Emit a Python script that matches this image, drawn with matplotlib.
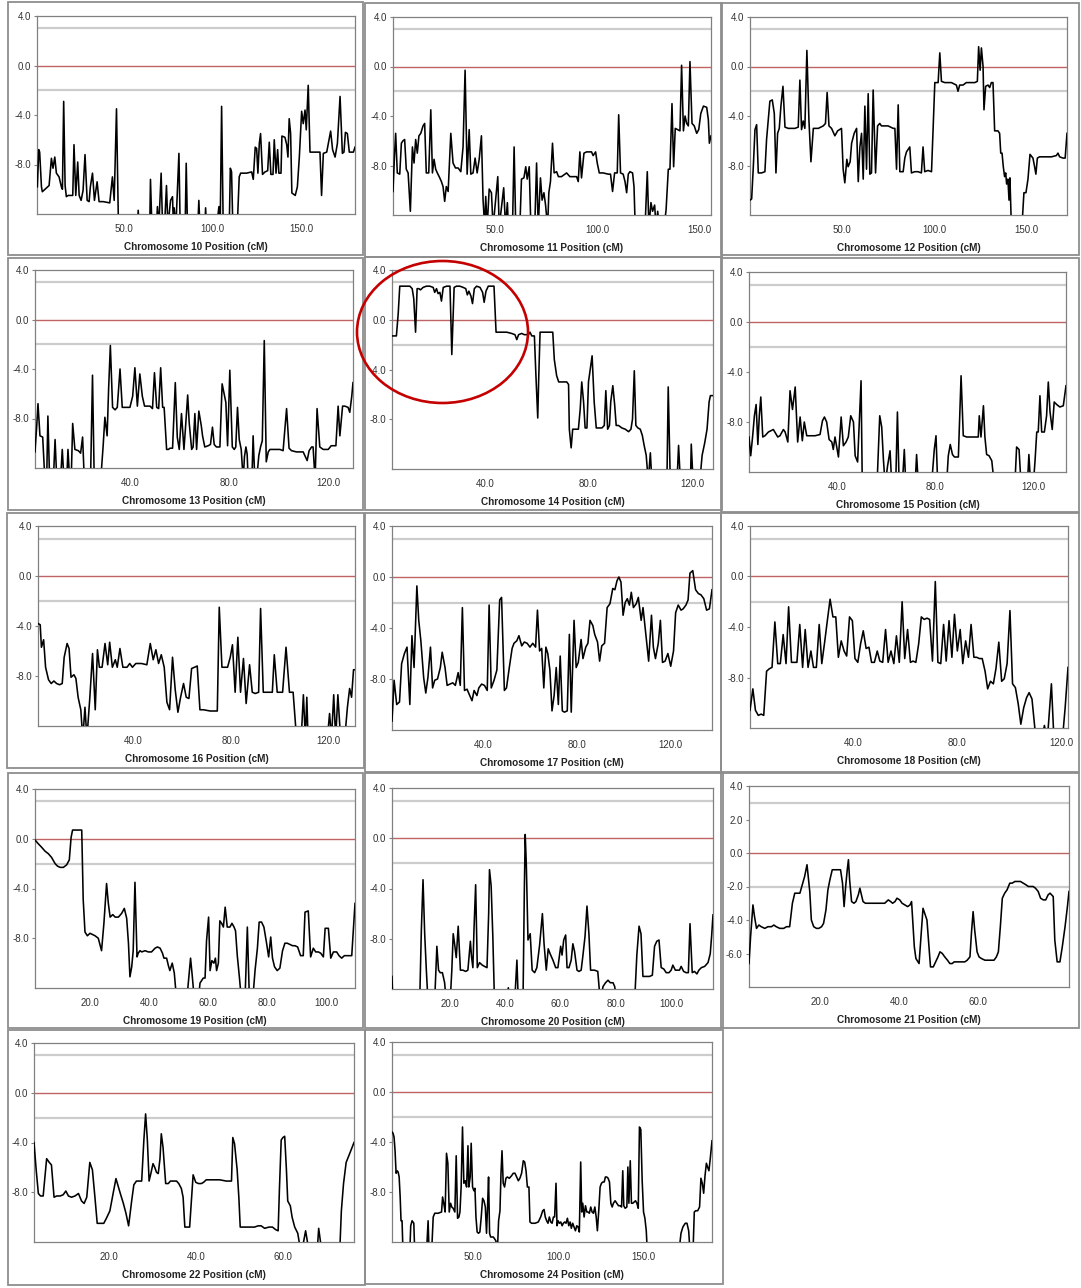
import matplotlib
matplotlib.use('Agg')
import matplotlib.pyplot as plt
from matplotlib.patches import Rectangle, Ellipse
from matplotlib.ticker import FormatStrFormatter

plt.rcParams['font.family'] = ['Liberation Sans', 'DejaVu Sans']
plt.rcParams['axes.unicode_minus'] = False

W, H = 1081, 1288

# (position cM, score) pairs
chr10 = [(1.4,-9.8),(2.2,-6.8),(2.7,-7.0),(3.7,-9.8),(4.2,-10.2),(6.5,-9.9),(8.0,-9.7),(9.3,-7.5),(10.2,-8.3),(11.2,-7.4),(12.1,-8.7),(13.6,-9.0),(14.9,-9.8),(15.5,-10.0),(16.2,-2.9),(17.0,-9.7),(17.7,-10.6),(18.7,-10.5),(20.5,-10.5),(21.3,-10.5),(22.0,-6.4),(23.0,-10.5),(24.1,-7.8),(24.9,-10.5),(26.0,-10.9),(27.1,-10.1),(28.2,-7.2),(29.4,-10.9),(30.5,-11.0),(31.2,-9.8),(32.4,-8.7),(33.5,-10.9),(35.0,-9.4),(36.1,-11.0),(38.4,-11.0),(42.1,-11.1),(43.6,-9.0),(44.6,-10.9),(45.9,-3.5),(47.0,-13),(57.7,-13),(58.1,-11.7),(58.6,-13),(64.6,-13),(65.0,-9.2),(65.8,-13),(68.4,-13),(68.9,-11.4),(69.7,-13),(71.0,-8.7),(71.8,-13),(72.9,-13),(74.0,-9.7),(74.8,-13),(76.3,-10.9),(77.4,-10.6),(77.9,-13),(78.3,-11.5),(79.3,-13),(81.0,-7.1),(81.7,-13),(84.5,-13),(85.1,-7.9),(85.8,-13),(91.6,-13),(92.2,-10.9),(92.8,-13),(95.6,-13),(96.0,-11.5),(96.5,-13),(102.2,-13),(103.5,-11.4),(104.2,-13),(105.0,-3.3),(105.9,-13),(109.3,-13),(109.9,-8.3),(110.6,-8.6),(111.3,-13),(113.8,-13),(114.9,-9.0),(115.7,-8.7),(119.0,-8.7),(121.9,-8.6),(122.8,-9.2),(123.9,-6.6),(124.7,-6.7),(125.4,-8.7),(126.2,-6.3),(126.9,-5.5),(128.0,-8.8),(129.4,-8.6),(130.9,-8.5),(131.8,-6.2),(132.7,-8.8),(133.9,-8.8),(134.6,-6.0),(135.6,-8.7),(136.5,-6.8),(137.2,-8.7),(138.4,-8.7),(138.9,-5.7),(140.6,-5.8),(141.6,-6.4),(142.3,-7.4),(143.0,-4.3),(143.8,-5.5),(144.5,-10.3),(146.4,-10.5),(147.6,-9.8),(148.7,-7.4),(150.0,-3.7),(150.9,-4.7),(151.9,-3.6),(152.6,-5.2),(153.7,-1.6),(154.7,-7.0),(158.4,-7.0),(160.3,-7.0),(161.2,-10.5),(162.2,-7.1),(164.1,-7.0),(165.0,-6.3),(166.3,-5.3),(167.4,-6.8),(168.8,-7.4),(170.1,-6.3),(171.6,-2.5),(172.9,-7.1),(173.8,-7.0),(174.6,-5.4),(175.7,-5.5),(176.8,-7.0),(179.1,-7.0),(180.0,-6.6)]

chr11 = [(0.0,-10.1),(0.7,-7.3),(1.3,-5.4),(2.1,-8.6),(3.3,-8.7),(4.1,-6.2),(4.9,-6.0),(5.7,-5.9),(6.5,-8.3),(7.4,-8.6),(8.5,-11.7),(9.5,-6.5),(10.3,-7.8),(11.1,-5.9),(11.9,-7.0),(12.7,-5.6),(13.6,-5.4),(14.7,-4.8),(15.5,-4.6),(16.3,-8.6),(17.5,-8.6),(18.5,-3.5),(19.3,-8.6),(20.1,-7.5),(20.9,-8.3),(21.7,-8.6),(22.9,-9.0),(23.7,-9.3),(24.5,-9.7),(25.3,-10.9),(26.1,-9.7),(27.0,-10.1),(28.3,-5.4),(29.4,-7.8),(30.6,-8.2),(31.9,-8.2),(33.2,-8.5),(34.3,-6.5),(35.3,-0.3),(36.3,-8.7),(37.3,-5.1),(38.1,-8.7),(39.2,-8.6),(40.2,-7.4),(41.2,-8.6),(42.2,-7.5),(43.3,-5.6),(44.1,-10.8),(44.9,-13),(45.4,-10.5),(46.1,-13),(47.1,-9.9),(48.2,-10.2),(49.0,-13),(51.3,-8.9),(52.0,-13),(54.2,-9.8),(55.1,-13),(56.0,-11.0),(56.5,-13),(58.5,-13),(59.3,-6.5),(60.1,-13),(62.1,-13),(62.9,-9.1),(64.1,-9.0),(65.0,-8.1),(65.7,-9.1),(66.7,-8.1),(67.5,-13),(69.4,-13),(70.3,-7.8),(71.1,-13),(72.2,-9.0),(73.0,-10.8),(73.9,-10.2),(74.7,-11.2),(75.7,-13),(76.3,-10.2),(77.1,-9.3),(78.1,-6.2),(78.9,-8.6),(80.1,-8.5),(81.0,-8.9),(82.5,-8.9),(85.0,-8.6),(86.6,-8.9),(88.2,-8.9),(89.9,-8.9),(90.7,-9.3),(91.5,-6.9),(92.3,-9.0),(93.5,-7.0),(94.8,-6.9),(97.2,-6.9),(98.0,-7.2),(99.2,-6.9),(100.0,-7.8),(101.0,-8.6),(102.9,-8.6),(105.4,-8.7),(106.5,-8.7),(107.5,-10.1),(108.5,-8.6),(109.8,-8.6),(110.5,-3.9),(111.4,-8.6),(112.7,-8.7),(113.6,-9.3),(114.4,-10.2),(115.2,-8.7),(116.0,-8.5),(117.3,-8.6),(118.0,-9.7),(118.6,-13),(123.4,-13),(124.5,-8.5),(125.3,-13),(126.3,-11.0),(127.1,-11.7),(128.1,-11.2),(128.8,-13),(129.6,-11.7),(130.4,-13),(132.7,-13),(133.7,-11.6),(134.8,-8.3),(135.6,-8.3),(136.6,-3.0),(137.4,-8.1),(138.2,-5.0),(139.4,-5.1),(140.5,-5.2),(141.3,0.1),(142.2,-5.2),(143.0,-4.0),(143.8,-4.6),(144.6,-4.8),(145.4,0.4),(146.4,-4.6),(147.5,-4.8),(148.7,-5.4),(149.7,-5.1),(150.7,-3.8),(152.0,-3.2),(153.6,-3.3),(154.4,-4.3),(154.9,-6.2),(155.7,-5.6)]

chr12 = [(0.0,-10.8),(0.9,-10.7),(1.8,-8.1),(2.7,-5.1),(3.6,-4.7),(4.5,-8.6),(6.3,-8.6),(8.1,-8.5),(9.0,-5.9),(9.9,-4.3),(10.8,-2.8),(12.1,-2.7),(13.2,-3.8),(14.1,-8.6),(15.0,-5.4),(15.9,-5.0),(16.8,-3.2),(17.9,-1.6),(19.0,-4.9),(20.8,-5.0),(24.4,-5.0),(26.2,-4.9),(27.1,-1.1),(28.0,-5.1),(28.9,-4.4),(29.8,-5.0),(30.9,1.3),(32.0,-4.3),(33.1,-7.7),(34.4,-5.0),(37.1,-5.0),(39.8,-4.8),(41.0,-4.6),(41.9,-2.1),(42.9,-4.8),(44.3,-5.0),(46.1,-5.6),(47.6,-5.2),(49.7,-5.0),(50.6,-8.3),(51.5,-9.4),(52.6,-7.5),(53.3,-8.1),(54.4,-7.7),(55.2,-6.2),(56.6,-5.4),(57.9,-5.0),(58.8,-9.3),(59.7,-6.5),(60.6,-5.4),(61.5,-9.1),(62.4,-3.2),(63.3,-8.3),(64.2,-2.2),(65.1,-8.7),(66.0,-8.6),(66.9,-1.9),(68.2,-8.6),(69.3,-4.8),(70.5,-4.6),(71.4,-4.8),(72.3,-4.8),(75.0,-4.8),(77.8,-5.0),(78.7,-5.0),(79.6,-8.3),(80.5,-3.1),(81.4,-8.5),(83.2,-8.5),(84.1,-7.4),(85.0,-6.9),(86.8,-6.5),(87.7,-8.6),(89.5,-8.5),(91.3,-8.5),(93.1,-8.6),(94.0,-6.5),(94.9,-8.5),(96.7,-8.4),(98.6,-8.5),(100.4,-1.3),(102.2,-1.3),(103.1,1.1),(104.0,-1.2),(105.8,-1.3),(109.4,-1.3),(112.1,-1.5),(113.0,-2.0),(113.9,-1.5),(115.7,-1.5),(117.5,-1.3),(120.3,-1.3),(122.1,-1.3),(123.5,-1.2),(124.2,1.6),(125.0,-0.3),(125.7,1.5),(126.6,0.0),(127.1,-3.5),(128.0,-1.6),(129.3,-1.5),(130.2,-1.7),(131.1,-1.3),(132.0,-1.3),(132.9,-5.2),(134.7,-5.2),(135.6,-5.4),(136.2,-7.0),(136.9,-7.0),(137.6,-8.1),(138.3,-8.9),(138.9,-8.6),(139.4,-9.5),(140.1,-9.1),(140.7,-10.8),(141.2,-9.0),(142.0,-13),(147.7,-13),(148.8,-10.2),(149.9,-10.2),(151.0,-9.1),(152.1,-7.1),(153.7,-7.4),(154.6,-8.1),(155.3,-8.7),(156.1,-7.4),(157.3,-7.3),(159.1,-7.3),(163.7,-7.3),(166.4,-7.2),(167.3,-7.0),(168.2,-7.3),(170.0,-7.4),(171.2,-7.4),(172.2,-5.4)]

chr13 = [(1.7,-10.7),(2.4,-8.6),(2.9,-6.8),(3.7,-9.4),(4.8,-9.5),(5.7,-13),(6.4,-13),(6.9,-7.8),(7.6,-13),(9.1,-13),(9.8,-9.7),(10.5,-13),(12.0,-13),(12.7,-10.5),(13.4,-13),(14.5,-13),(15.0,-10.5),(15.7,-13),(16.3,-13),(16.9,-8.4),(17.8,-10.5),(19.2,-10.6),(20.1,-10.8),(20.9,-9.5),(21.6,-13),(24.1,-13),(24.9,-4.5),(25.6,-13),(28.2,-13),(29.2,-10.2),(29.9,-7.9),(30.8,-9.4),(31.4,-5.6),(32.1,-2.1),(33.0,-7.1),(34.0,-7.3),(34.9,-7.1),(36.0,-4.0),(36.9,-7.1),(38.0,-7.1),(40.0,-7.1),(41.1,-6.2),(42.0,-3.9),(43.0,-7.0),(44.0,-4.4),(45.0,-6.2),(45.9,-7.0),(46.7,-7.0),(48.1,-7.0),(49.1,-7.2),(49.9,-4.3),(50.8,-7.1),(51.6,-7.2),(52.4,-3.9),(53.2,-7.1),(53.8,-7.1),(54.8,-10.5),(55.5,-10.5),(56.2,-10.4),(57.2,-10.4),(58.3,-5.1),(59.1,-9.5),(59.9,-10.5),(60.8,-7.6),(61.8,-10.5),(62.4,-8.8),(63.3,-6.1),(63.9,-8.3),(64.9,-10.5),(65.5,-10.3),(66.2,-7.6),(66.9,-10.5),(67.8,-7.4),(68.8,-8.6),(69.3,-9.4),(70.2,-10.3),(71.6,-10.2),(72.5,-10.1),(73.3,-8.7),(74.0,-10.1),(74.9,-10.3),(76.3,-10.3),(77.2,-5.2),(77.9,-5.9),(78.7,-6.7),(79.4,-10.2),(80.3,-4.1),(81.3,-10.3),(82.1,-10.5),(82.7,-10.3),(83.4,-7.1),(84.1,-9.7),(84.9,-10.5),(85.7,-13),(86.2,-11.1),(86.8,-10.3),(87.3,-10.9),(87.7,-13),(89.2,-13),(89.7,-9.4),(90.4,-13),(91.1,-13),(92.0,-11.0),(92.7,-10.3),(93.4,-9.8),(94.2,-1.7),(95.0,-11.5),(95.8,-10.7),(96.5,-10.5),(97.8,-10.5),(100.5,-10.5),(101.8,-10.6),(103.2,-7.2),(104.2,-10.4),(105.2,-10.6),(107.2,-10.7),(109.9,-10.7),(111.5,-11.4),(112.3,-10.6),(113.3,-10.3),(113.9,-10.3),(114.7,-13),(115.5,-7.2),(116.6,-10.3),(118.0,-10.5),(120.0,-10.5),(121.2,-10.2),(123.1,-10.2),(124.0,-7.0),(124.7,-9.4),(125.8,-7.0),(126.7,-7.0),(128.0,-7.1),(128.7,-7.5),(129.5,-6.2),(130.0,-5.1)]

chr14 = [(4.1,-1.3),(5.8,-1.3),(6.5,0.5),(7.1,2.7),(8.4,2.7),(11.0,2.7),(11.9,2.5),(12.5,1.7),(13.2,-1.0),(13.8,2.5),(14.5,2.5),(15.1,2.4),(16.1,2.6),(17.4,2.7),(18.7,2.7),(20.0,2.6),(20.6,2.2),(21.3,2.5),(21.9,2.1),(22.6,2.2),(23.2,1.5),(23.9,2.6),(25.2,2.7),(26.5,2.7),(27.2,-2.8),(28.1,2.6),(29.0,2.7),(30.3,2.7),(31.6,2.6),(32.6,2.5),(33.2,2.0),(33.8,2.3),(34.6,1.9),(35.2,1.3),(35.9,2.5),(36.8,2.7),(38.1,2.6),(39.1,2.2),(39.7,1.4),(40.4,2.3),(41.3,2.7),(42.6,2.7),(43.5,2.7),(44.3,-1.0),(45.8,-1.0),(48.4,-1.0),(50.3,-1.1),(51.6,-1.2),(52.3,-1.6),(53.0,-1.2),(54.2,-1.1),(55.2,-1.2),(56.1,-1.2),(56.8,-1.2),(57.4,-1.0),(58.1,-1.3),(58.7,-1.3),(59.1,-1.3),(59.7,-4.5),(60.4,-7.9),(60.8,-4.5),(61.3,-1.0),(62.6,-1.0),(63.9,-1.0),(65.2,-1.0),(66.2,-1.0),(66.8,-3.2),(67.7,-4.5),(68.5,-5.0),(70.3,-5.0),(71.6,-5.0),(72.3,-5.2),(72.6,-8.8),(73.3,-10.3),(73.9,-8.8),(74.8,-8.8),(76.1,-8.8),(76.8,-7.2),(77.4,-5.0),(78.1,-6.6),(78.7,-8.7),(79.4,-8.7),(80.0,-5.0),(80.6,-4.1),(81.4,-2.9),(82.2,-6.6),(83.0,-8.7),(83.9,-8.7),(85.2,-8.7),(86.1,-8.5),(86.7,-5.7),(87.4,-8.8),(88.1,-8.5),(88.6,-6.6),(89.4,-5.3),(90.1,-6.8),(90.7,-8.5),(91.6,-8.5),(92.9,-8.7),(94.2,-8.8),(95.5,-9.0),(96.4,-8.8),(97.0,-8.0),(97.7,-4.1),(98.3,-8.5),(99.1,-8.7),(100.0,-8.8),(100.8,-9.3),(101.5,-10.1),(102.3,-10.9),(103.1,-13),(103.9,-10.7),(104.5,-13),(110.3,-13),(110.8,-5.4),(111.6,-13),(114.2,-13),(114.8,-10.1),(115.5,-13),(119.4,-13),(119.7,-10.0),(120.4,-13),(123.0,-13),(123.9,-10.9),(124.9,-9.9),(125.8,-8.8),(126.6,-6.6),(127.1,-6.1),(128.1,-6.1)]

chr15 = [(4.3,-9.2),(5.0,-10.7),(5.8,-9.1),(6.5,-7.5),(7.2,-6.6),(7.9,-9.8),(8.5,-7.5),(9.1,-6.0),(9.9,-9.2),(10.8,-9.1),(12.2,-8.8),(14.2,-8.6),(16.0,-9.2),(16.9,-9.1),(18.3,-8.6),(19.0,-8.8),(20.1,-9.6),(21.0,-5.5),(22.0,-7.0),(23.1,-5.2),(24.1,-9.6),(25.1,-7.6),(26.0,-9.5),(26.8,-8.0),(27.8,-9.1),(29.2,-9.1),(31.2,-9.1),(33.2,-9.0),(34.2,-7.9),(35.0,-7.6),(35.9,-8.0),(36.9,-9.4),(38.0,-9.6),(38.6,-10.2),(39.3,-9.2),(40.0,-10.0),(40.7,-10.8),(41.8,-7.6),(42.7,-9.9),(43.8,-9.6),(44.7,-9.2),(45.7,-7.5),(46.8,-8.0),(47.5,-10.7),(48.5,-11.2),(49.9,-4.7),(50.4,-13),(56.4,-13),(57.5,-7.5),(58.3,-8.4),(59.0,-11.0),(59.7,-13),(60.7,-11.5),(61.7,-10.3),(62.4,-13),(64.0,-13),(64.7,-7.2),(65.4,-13),(66.7,-13),(67.5,-10.2),(68.1,-13),(71.9,-13),(72.5,-10.6),(73.2,-13),(78.6,-13),(79.7,-10.2),(80.4,-9.1),(81.1,-13),(84.7,-13),(85.4,-10.7),(86.2,-9.8),(87.1,-10.6),(87.9,-10.8),(89.5,-10.8),(90.6,-4.3),(91.5,-9.1),(92.9,-9.2),(94.9,-9.2),(97.6,-9.2),(98.0,-7.5),(98.7,-9.2),(99.7,-6.7),(100.3,-9.2),(101.0,-10.6),(102.0,-10.7),(103.1,-11.1),(104.1,-13),(112.5,-13),(113.2,-10.0),(114.2,-10.2),(115.0,-13),(117.6,-13),(118.2,-10.6),(118.9,-13),(120.0,-13),(120.7,-11.1),(121.4,-8.8),(122.0,-8.8),(122.7,-5.9),(123.4,-8.8),(124.5,-8.8),(125.4,-7.5),(126.1,-4.8),(126.8,-7.2),(127.7,-8.6),(128.5,-6.4),(129.5,-6.6),(130.8,-6.8),(132.2,-6.7),(133.3,-5.1)]

chr16 = [(1.1,-3.8),(2.0,-3.9),(2.5,-5.7),(3.4,-5.1),(4.2,-7.3),(5.4,-8.3),(6.5,-8.6),(7.6,-8.4),(8.7,-8.6),(9.9,-8.7),(11.0,-8.6),(11.8,-6.5),(13.0,-5.4),(13.8,-5.8),(14.6,-8.1),(15.8,-7.9),(16.6,-8.2),(17.5,-9.7),(18.6,-10.7),(19.4,-13),(20.3,-10.5),(21.1,-13),(22.3,-9.7),(23.4,-6.2),(24.5,-10.7),(25.4,-5.9),(26.2,-7.3),(27.3,-7.3),(28.5,-5.4),(29.6,-7.1),(30.4,-5.3),(31.5,-7.3),(32.7,-6.7),(33.5,-7.3),(34.6,-5.8),(35.8,-7.3),(37.5,-7.3),(38.6,-7.0),(39.7,-7.3),(41.1,-7.0),(43.4,-7.0),(45.6,-7.1),(47.0,-5.4),(48.2,-6.7),(49.3,-5.9),(50.4,-7.0),(51.5,-6.3),(52.7,-7.3),(53.8,-10.1),(54.9,-10.7),(56.1,-6.5),(57.2,-9.1),(58.3,-10.9),(59.4,-9.7),(60.6,-8.6),(61.7,-9.7),(62.8,-9.8),(63.9,-7.4),(65.1,-7.3),(66.2,-7.2),(67.3,-10.7),(68.7,-10.7),(71.5,-10.8),(74.4,-10.8),(75.2,-2.5),(76.3,-7.3),(78.6,-7.3),(79.7,-6.5),(80.6,-5.5),(81.7,-9.3),(82.8,-4.9),(83.9,-9.3),(85.1,-6.6),(86.2,-10.2),(87.6,-7.1),(88.7,-9.3),(89.9,-9.4),(91.3,-9.3),(92.1,-2.6),(93.2,-9.3),(95.5,-9.3),(96.9,-9.3),(97.7,-6.3),(98.9,-9.3),(101.1,-9.3),(102.5,-5.7),(103.9,-9.3),(105.4,-9.3),(106.8,-13),(108.7,-13),(109.6,-9.5),(110.4,-13),(111.0,-9.7),(111.5,-13),(119.4,-13),(120.3,-11.0),(121.1,-13),(122.0,-9.5),(122.8,-13),(123.7,-9.5),(124.8,-13),(126.5,-13),(127.6,-10.5),(128.5,-9.0),(129.3,-9.7),(130.1,-7.5),(130.7,-7.5)]

chr17 = [(1.2,-11.3),(2.1,-8.1),(3.2,-10.0),(4.4,-9.8),(5.3,-6.8),(6.5,-6.0),(7.6,-5.5),(8.8,-10.0),(9.7,-4.6),(10.6,-7.1),(11.8,-0.7),(12.6,-3.4),(13.5,-5.0),(14.7,-7.9),(15.6,-9.1),(16.5,-7.9),(17.6,-5.5),(18.5,-8.7),(19.4,-8.1),(20.6,-8.0),(21.8,-7.1),(22.6,-5.9),(23.8,-7.1),(24.7,-8.5),(25.9,-8.4),(27.1,-8.3),(28.2,-8.5),(29.4,-7.5),(30.3,-8.5),(31.2,-2.4),(32.1,-8.9),(33.2,-8.8),(34.1,-9.2),(35.3,-9.7),(36.2,-8.9),(37.4,-9.3),(38.2,-8.7),(39.4,-8.4),(40.6,-8.5),(41.8,-8.9),(42.6,-2.2),(43.5,-8.7),(44.7,-8.1),(45.9,-7.3),(47.1,-1.8),(47.9,-1.6),(49.1,-8.9),(50.0,-8.7),(51.2,-7.1),(52.4,-5.6),(53.2,-5.2),(54.4,-5.0),(55.3,-4.6),(56.5,-5.4),(57.6,-5.1),(58.8,-5.2),(60.0,-5.5),(61.2,-5.2),(62.4,-5.5),(63.2,-2.6),(64.1,-5.8),(65.0,-5.6),(65.9,-8.7),(66.8,-5.5),(67.6,-6.0),(68.5,-7.3),(69.4,-10.5),(70.3,-9.3),(71.2,-7.1),(72.1,-10.0),(72.9,-6.2),(73.8,-10.5),(74.7,-10.6),(75.9,-10.5),(76.8,-4.5),(77.6,-10.6),(78.8,-3.4),(79.7,-7.1),(80.6,-6.7),(81.8,-4.9),(82.6,-6.4),(83.8,-5.5),(84.7,-5.2),(85.6,-3.4),(86.8,-3.8),(87.6,-4.5),(88.8,-5.1),(89.7,-6.6),(90.6,-5.4),(91.8,-5.2),(92.9,-2.4),(94.1,-2.1),(95.3,-0.9),(96.2,-1.0),(97.1,-0.3),(97.9,0.0),(98.8,-0.4),(99.7,-3.0),(100.6,-2.0),(101.5,-1.7),(102.4,-2.2),(103.2,-1.2),(104.1,-2.4),(105.3,-2.1),(106.2,-1.6),(107.4,-3.4),(108.2,-2.4),(109.4,-4.5),(110.6,-6.6),(111.8,-3.0),(112.6,-5.5),(113.5,-6.4),(114.7,-5.2),(115.6,-3.4),(116.5,-6.7),(117.6,-6.6),(118.8,-6.0),(120.0,-7.0),(121.2,-5.8),(122.1,-2.8),(123.2,-2.2),(124.4,-2.6),(125.3,-2.5),(126.5,-2.2),(127.4,-1.8),(128.2,0.3),(129.4,0.5),(130.6,-1.0),(131.8,-1.3),(132.9,-1.4),(134.1,-1.7),(135.3,-2.6),(136.5,-2.5),(137.6,-1.0)]

chr18 = [(0.0,-10.6),(1.1,-8.9),(2.1,-10.6),(3.2,-11.0),(4.3,-10.9),(5.3,-11.0),(6.4,-7.5),(7.5,-7.3),(8.5,-7.2),(9.6,-3.6),(10.7,-6.9),(11.7,-6.9),(12.8,-4.6),(13.9,-6.9),(14.9,-2.4),(16.0,-6.8),(17.1,-6.8),(18.1,-6.8),(19.2,-3.8),(20.3,-7.2),(21.3,-4.2),(22.4,-7.2),(23.5,-5.9),(24.5,-7.2),(25.6,-7.2),(26.7,-3.8),(27.7,-6.9),(28.8,-5.2),(29.9,-3.4),(30.9,-1.8),(32.0,-3.2),(33.1,-3.2),(34.1,-6.4),(35.2,-5.1),(36.3,-5.9),(37.3,-6.3),(38.4,-3.2),(39.5,-3.5),(40.5,-6.5),(41.6,-6.8),(42.7,-5.3),(43.7,-4.3),(44.8,-5.7),(45.9,-5.6),(46.9,-6.8),(48.0,-6.8),(49.1,-5.9),(50.1,-6.7),(51.2,-6.8),(52.3,-4.2),(53.3,-6.8),(54.4,-5.9),(55.5,-6.9),(56.5,-4.7),(57.6,-6.8),(58.7,-2.0),(59.7,-6.5),(60.8,-4.2),(61.9,-6.8),(62.9,-6.7),(64.0,-6.8),(65.1,-5.3),(66.1,-3.2),(67.2,-3.4),(68.3,-3.3),(69.3,-3.4),(70.4,-6.7),(71.5,-0.4),(72.5,-6.8),(73.6,-6.9),(74.7,-3.8),(75.7,-6.7),(76.8,-3.5),(77.9,-6.4),(78.9,-3.0),(80.0,-5.9),(81.1,-4.2),(82.1,-6.9),(83.2,-5.1),(84.3,-6.4),(85.3,-3.8),(86.4,-6.4),(87.5,-6.4),(88.5,-6.5),(89.6,-6.5),(90.7,-7.5),(91.7,-8.9),(92.8,-8.3),(93.9,-8.5),(94.9,-7.3),(96.0,-5.2),(97.1,-8.3),(98.1,-8.1),(99.2,-6.9),(100.3,-2.7),(101.3,-8.5),(102.4,-8.8),(103.5,-10.1),(104.5,-11.7),(105.6,-10.4),(106.7,-9.6),(107.7,-9.2),(108.8,-9.7),(109.9,-12.0),(112.5,-13),(113.6,-11.8),(114.7,-13),(116.3,-8.5),(117.3,-13),(120.5,-13),(121.6,-10.4),(122.7,-7.2)]

chr19 = [(1.4,-0.1),(2.5,-0.4),(3.7,-0.7),(4.8,-1.0),(5.9,-1.2),(7.0,-1.5),(8.2,-2.0),(9.0,-2.2),(9.9,-2.3),(11.0,-2.3),(12.1,-2.1),(13.0,-1.7),(13.6,0.1),(14.1,0.7),(15.5,0.7),(16.6,0.7),(17.2,0.7),(17.7,-4.9),(18.3,-7.5),(19.1,-7.8),(20.0,-7.6),(21.7,-7.8),(22.8,-8.0),(23.9,-9.0),(24.7,-6.8),(25.6,-3.6),(26.2,-5.2),(26.8,-6.3),(27.7,-6.1),(28.5,-6.3),(29.6,-6.3),(30.7,-6.0),(31.6,-5.6),(32.4,-6.4),(33.0,-8.4),(33.5,-11.1),(34.1,-10.3),(34.6,-9.0),(35.2,-3.5),(35.9,-9.5),(36.3,-9.2),(36.9,-9.0),(37.5,-9.1),(38.6,-9.0),(39.7,-9.1),(40.8,-9.1),(42.0,-8.8),(42.8,-8.7),(43.7,-8.8),(44.5,-9.2),(45.0,-9.6),(45.9,-9.6),(46.5,-10.2),(47.0,-10.6),(47.8,-10.0),(48.5,-10.8),(49.3,-13),(52.7,-13),(54.0,-9.6),(54.6,-11.1),(55.3,-13),(56.6,-13),(57.2,-11.6),(58.3,-11.2),(58.9,-11.2),(59.4,-8.2),(60.1,-6.3),(60.6,-10.6),(61.2,-9.8),(61.9,-10.0),(62.4,-9.6),(62.8,-10.6),(63.4,-10.0),(63.9,-6.6),(64.5,-6.8),(65.1,-7.1),(65.7,-5.5),(66.4,-7.1),(67.3,-7.1),(68.0,-6.8),(68.7,-7.1),(69.2,-7.4),(69.8,-9.4),(70.5,-11.1),(71.2,-13),(72.4,-13),(73.2,-7.1),(73.9,-13),(75.0,-13),(75.8,-10.6),(76.6,-8.8),(77.2,-6.7),(78.0,-6.7),(78.8,-7.1),(79.7,-8.4),(80.4,-9.5),(81.1,-7.9),(81.7,-9.6),(82.4,-10.3),(83.3,-10.6),(84.2,-10.4),(85.1,-9.0),(85.9,-8.4),(86.7,-8.4),(87.6,-8.5),(88.5,-8.6),(89.3,-8.6),(90.2,-8.7),(91.2,-9.4),(92.1,-9.4),(92.7,-5.9),(93.8,-5.8),(94.6,-9.5),(95.5,-8.8),(96.3,-9.1),(97.2,-9.1),(98.0,-9.2),(98.9,-9.5),(99.5,-7.2),(100.6,-7.2),(101.4,-9.6),(102.3,-9.1),(103.4,-9.1),(104.2,-9.4),(105.1,-9.6),(106.0,-9.4),(106.8,-9.4),(108.5,-9.4),(109.6,-5.2)]

chr20 = [(-0.8,-11.0),(-0.5,-13),(9.2,-13),(9.8,-7.3),(10.4,-3.3),(11.0,-7.6),(11.6,-10.5),(12.2,-13),(14.6,-13),(15.4,-8.6),(16.0,-10.5),(16.6,-10.7),(17.4,-10.7),(18.2,-11.5),(18.8,-13),(20.2,-13),(20.8,-10.5),(21.3,-7.6),(21.8,-8.4),(22.4,-9.5),(23.1,-7.0),(23.9,-10.5),(24.8,-10.5),(25.8,-10.6),(26.6,-10.5),(27.5,-8.2),(27.9,-9.4),(28.4,-10.3),(28.8,-7.3),(29.4,-3.7),(30.0,-10.3),(30.8,-9.9),(31.8,-10.1),(32.6,-10.2),(33.5,-10.3),(34.1,-6.0),(34.4,-2.5),(35.0,-3.8),(35.6,-7.8),(36.2,-13),(40.5,-13),(41.2,-11.9),(41.9,-13),(43.5,-13),(44.3,-9.7),(44.8,-13),(46.5,-13),(47.0,-3.8),(47.3,0.3),(47.7,-2.1),(48.3,-8.1),(49.1,-7.6),(49.8,-10.5),(50.7,-10.7),(51.5,-10.3),(52.5,-8.5),(53.5,-6.0),(54.1,-8.4),(54.9,-10.5),(55.6,-8.8),(56.3,-9.2),(57.3,-9.7),(58.3,-10.3),(59.1,-10.3),(60.1,-8.6),(60.6,-9.3),(61.2,-8.1),(61.9,-7.7),(62.4,-10.3),(63.1,-10.3),(63.9,-9.7),(64.5,-8.4),(65.1,-9.0),(66.0,-10.5),(66.7,-10.6),(67.5,-10.5),(68.1,-9.4),(68.9,-7.8),(69.6,-5.4),(70.3,-7.6),(70.9,-10.5),(71.7,-10.5),(72.3,-10.5),(73.5,-10.6),(74.4,-13),(75.4,-11.8),(76.3,-11.5),(77.2,-11.3),(78.0,-11.5),(79.0,-11.5),(79.6,-11.8),(80.4,-13),(86.8,-13),(87.6,-9.3),(88.4,-7.0),(89.1,-7.6),(89.8,-11.0),(91.0,-11.0),(92.2,-11.0),(93.2,-10.9),(94.0,-8.6),(94.8,-8.2),(95.6,-8.1),(96.4,-10.3),(97.3,-10.4),(98.2,-10.7),(99.2,-10.7),(100.0,-10.5),(100.6,-10.1),(101.5,-10.5),(102.2,-10.5),(103.0,-10.5),(103.6,-10.2),(104.5,-10.6),(105.4,-10.7),(106.2,-10.7),(106.8,-6.8),(107.6,-10.7),(108.4,-10.6),(109.3,-10.8),(110.0,-10.5),(110.9,-10.3),(112.1,-10.2),(113.3,-9.9),(114.1,-9.2),(114.6,-7.8),(115.1,-6.1)]

chr21 = [(1.9,-6.6),(2.3,-5.0),(2.9,-3.1),(3.3,-3.8),(3.8,-4.5),(4.4,-4.3),(5.0,-4.4),(5.9,-4.5),(6.7,-4.4),(7.6,-4.4),(8.2,-4.3),(8.8,-4.4),(9.7,-4.5),(10.7,-4.5),(11.4,-4.4),(12.2,-4.4),(12.9,-3.0),(13.5,-2.4),(14.2,-2.4),(14.8,-2.4),(15.4,-1.9),(16.0,-1.4),(16.6,-0.7),(17.3,-2.3),(17.7,-4.0),(18.3,-4.4),(19.0,-4.5),(19.6,-4.5),(20.3,-4.4),(20.8,-4.2),(21.4,-3.4),(21.9,-2.2),(22.4,-1.6),(23.0,-1.0),(23.6,-1.0),(24.5,-1.0),(25.1,-1.0),(25.6,-1.8),(26.0,-3.2),(26.4,-2.0),(26.8,-1.0),(27.1,-0.4),(27.4,-1.6),(27.9,-2.9),(28.5,-3.0),(29.0,-2.9),(29.6,-2.5),(30.0,-2.1),(30.4,-2.5),(30.8,-2.9),(31.4,-3.0),(32.1,-3.0),(32.7,-3.0),(33.2,-3.0),(33.8,-3.0),(34.4,-3.0),(35.0,-3.0),(35.7,-3.0),(36.3,-3.0),(37.2,-2.8),(37.8,-2.9),(38.3,-3.0),(38.9,-2.9),(39.4,-2.7),(40.1,-2.8),(40.7,-3.0),(41.4,-3.1),(42.1,-3.2),(42.7,-3.1),(43.1,-2.9),(43.8,-5.6),(44.2,-6.3),(45.0,-6.6),(46.0,-3.3),(47.0,-4.0),(47.9,-6.8),(48.6,-6.8),(49.2,-6.5),(49.8,-6.2),(50.3,-5.9),(50.9,-6.0),(51.5,-6.2),(52.2,-6.4),(52.8,-6.6),(53.4,-6.6),(53.9,-6.5),(54.5,-6.5),(55.2,-6.5),(55.9,-6.5),(56.6,-6.5),(57.2,-6.4),(57.9,-6.2),(58.3,-4.7),(58.7,-3.5),(59.1,-4.6),(59.7,-5.9),(60.2,-6.2),(60.8,-6.3),(61.7,-6.4),(62.5,-6.4),(63.4,-6.4),(64.0,-6.4),(64.6,-6.2),(65.1,-5.9),(65.6,-4.4),(66.1,-2.7),(66.7,-2.4),(67.3,-2.2),(68.0,-1.8),(68.6,-1.8),(69.3,-1.7),(70.0,-1.7),(70.7,-1.7),(71.4,-1.8),(72.1,-1.9),(72.7,-2.0),(73.3,-2.0),(73.9,-2.0),(74.5,-2.1),(75.2,-2.3),(75.8,-2.7),(76.5,-2.8),(77.1,-2.8),(77.7,-2.5),(78.2,-2.4),(78.6,-2.5),(79.0,-2.6),(79.4,-5.2),(80.0,-6.5),(80.7,-6.5),(81.3,-5.6),(82.0,-4.4),(82.6,-3.2),(83.0,-2.3)]

chr22 = [(2.9,-4.0),(3.4,-6.2),(3.9,-8.1),(4.4,-8.3),(5.0,-8.3),(5.8,-5.3),(6.4,-5.6),(6.9,-5.8),(7.5,-8.4),(8.1,-8.3),(8.9,-8.3),(9.6,-8.2),(10.2,-7.9),(10.8,-8.3),(11.5,-8.4),(12.3,-8.3),(13.1,-8.1),(13.8,-8.7),(14.4,-8.9),(15.0,-8.4),(15.7,-5.6),(16.3,-6.2),(16.9,-8.5),(17.4,-10.5),(18.0,-10.5),(18.9,-10.5),(19.5,-10.1),(20.3,-9.5),(21.1,-8.0),(21.7,-6.9),(22.2,-7.5),(22.7,-8.1),(23.4,-8.9),(24.0,-9.7),(24.6,-10.7),(25.3,-8.7),(25.8,-7.4),(26.4,-7.1),(27.0,-7.1),(27.6,-7.1),(28.1,-3.8),(28.5,-1.7),(28.9,-3.8),(29.3,-7.1),(29.7,-6.5),(30.2,-5.7),(30.6,-6.0),(31.0,-6.4),(31.4,-6.5),(31.8,-5.3),(32.1,-3.3),(32.5,-4.4),(33.1,-7.3),(33.7,-7.3),(34.2,-7.1),(34.8,-7.1),(35.6,-7.1),(36.1,-7.3),(36.7,-7.7),(37.1,-8.4),(37.5,-10.8),(38.0,-10.8),(38.6,-10.8),(39.0,-8.7),(39.4,-6.6),(40.0,-7.2),(40.6,-7.3),(41.3,-7.3),(41.8,-7.2),(42.4,-7.0),(43.2,-7.0),(44.4,-7.0),(45.5,-7.0),(47.0,-7.1),(47.8,-7.1),(48.2,-7.1),(48.5,-3.6),(48.9,-4.1),(49.5,-6.2),(49.9,-8.5),(50.2,-10.8),(51.2,-10.8),(52.4,-10.8),(53.5,-10.8),(54.3,-10.7),(55.0,-10.7),(55.8,-10.9),(56.8,-10.8),(57.6,-10.8),(58.3,-11.0),(58.9,-11.1),(59.2,-7.7),(59.6,-3.8),(60.0,-3.6),(60.4,-3.5),(60.8,-6.2),(61.1,-8.7),(61.7,-9.1),(62.1,-10.0),(62.7,-10.8),(63.4,-11.3),(64.2,-13),(65.2,-11.1),(66.1,-13),(67.8,-13),(68.2,-10.9),(69.0,-13),(73.0,-13),(73.4,-9.5),(73.9,-7.3),(74.5,-5.6),(75.3,-4.9),(76.3,-4.0)]

chr24 = [(2.5,-3.2),(3.1,-3.3),(3.7,-3.6),(4.3,-4.7),(4.9,-6.5),(5.5,-6.3),(6.1,-6.4),(6.7,-6.8),(7.3,-8.4),(7.8,-10.3),(8.4,-10.3),(9.0,-13),(12.9,-13),(13.5,-10.7),(14.3,-10.3),(15.3,-10.5),(15.9,-13),(22.7,-13),(23.7,-10.3),(24.3,-13),(25.7,-13),(26.7,-10.0),(27.6,-9.7),(29.6,-9.7),(31.6,-9.6),(32.2,-8.4),(32.9,-8.9),(33.7,-9.6),(34.5,-4.9),(35.3,-5.7),(36.1,-9.6),(36.9,-8.9),(37.6,-9.2),(38.4,-9.3),(39.4,-9.6),(40.2,-5.1),(41.0,-10.1),(41.8,-10.0),(42.4,-9.6),(43.1,-7.6),(43.9,-2.8),(44.7,-7.3),(45.5,-7.1),(46.3,-7.6),(47.1,-4.3),(47.6,-7.6),(48.4,-6.8),(49.0,-4.1),(49.8,-7.6),(50.6,-7.9),(51.2,-7.7),(51.8,-10.0),(52.5,-11.2),(53.3,-11.3),(54.1,-11.2),(54.9,-10.0),(55.7,-8.5),(56.5,-8.7),(57.3,-9.2),(58.0,-11.3),(58.6,-9.2),(59.2,-6.8),(59.8,-11.3),(60.4,-11.6),(62.0,-11.6),(63.5,-11.9),(64.3,-13),(65.1,-10.3),(65.9,-9.5),(66.5,-6.5),(67.1,-4.7),(67.8,-7.3),(68.6,-7.6),(69.4,-6.9),(70.2,-6.8),(71.4,-6.9),(72.7,-6.7),(73.7,-6.5),(74.7,-6.5),(75.7,-6.8),(76.7,-7.1),(77.6,-6.9),(78.6,-6.5),(79.6,-5.5),(80.4,-5.6),(81.2,-6.3),(82.0,-7.6),(82.9,-7.6),(83.5,-10.4),(84.5,-10.5),(86.5,-10.5),(88.4,-10.4),(89.8,-10.0),(91.0,-9.5),(91.8,-9.4),(92.5,-10.0),(93.3,-10.3),(94.1,-10.5),(94.9,-10.0),(95.7,-10.4),(96.5,-10.5),(97.3,-10.0),(98.0,-10.0),(98.8,-7.3),(99.4,-10.7),(100.0,-10.3),(100.8,-10.5),(101.6,-10.4),(102.4,-10.7),(103.1,-10.5),(103.9,-10.4),(104.7,-10.5),(105.5,-10.1),(106.3,-10.7),(107.1,-10.4),(107.8,-10.9),(108.6,-10.5),(109.4,-10.8),(110.2,-11.1),(111.0,-10.7),(111.8,-10.8),(112.5,-11.2),(113.3,-5.6),(113.9,-9.6),(114.5,-8.9),(115.3,-10.0),(116.1,-9.1),(116.9,-9.6),(117.6,-9.6),(118.4,-9.7),(119.2,-9.2),(120.0,-9.6),(120.8,-9.7),(121.6,-9.2),(122.4,-10.0),(123.1,-11.1),(123.9,-9.5),(124.7,-7.6),(125.5,-7.3),(126.3,-7.2),(127.1,-7.2),(127.8,-6.8),(128.6,-6.8),(129.4,-6.9),(130.2,-7.2),(131.0,-8.9),(131.8,-9.2),(132.5,-8.9),(133.5,-8.7),(134.5,-8.9),(135.5,-9.1),(136.5,-9.1),(137.3,-9.2),(138.0,-6.3),(138.6,-9.1),(139.4,-9.3),(140.4,-9.2),(141.0,-6.0),(141.6,-8.9),(142.4,-5.5),(143.1,-8.9),(143.9,-8.9),(144.7,-8.8),(145.5,-8.7),(146.3,-8.9),(147.1,-9.3),(147.8,-2.8),(148.6,-3.0),(149.4,-7.1),(150.2,-9.6),(151.0,-10.1),(151.8,-11.1),(152.5,-13),(170.8,-13),(172.2,-11.3),(173.3,-10.8),(174.7,-10.5),(175.7,-10.5),(176.7,-11.1),(177.6,-13),(179.2,-13),(180.0,-9.6),(180.8,-9.5),(182.0,-9.5),(183.1,-9.2),(183.9,-6.9),(184.7,-7.3),(185.5,-8.1),(186.3,-6.7),(187.1,-5.7),(187.8,-6.0),(188.6,-6.3),(189.4,-5.3),(190.4,-3.9)]

upper_line, zero_line, lower_line = 3.0, 0.0, -2.0
yticks_std = [4, 0, -4, -8]
yticks_21 = [4, 2, 0, -2, -4, -6]

# name, data, xlim, xticks, axes box in px (l, t, r, b), ylim, yticks
panels = [
    ('10', chr10, (1.2, 180), [50, 100, 150], (37, 16, 355, 214), (-12, 4), yticks_std),
    ('11', chr11, (0, 155.7), [50, 100, 150], (393, 17, 711, 215), (-12, 4), yticks_std),
    ('12', chr12, (0, 172.2), [50, 100, 150], (750, 17, 1067, 215), (-12, 4), yticks_std),
    ('13', chr13, (1.7, 130), [40, 80, 120], (35, 270, 353, 468), (-12, 4), yticks_std),
    ('14', chr14, (4.1, 128.1), [40, 80, 120], (392, 270, 713, 469), (-12, 4), yticks_std),
    ('15', chr15, (4.3, 133.3), [40, 80, 120], (749, 272, 1066, 472), (-12, 4), yticks_std),
    ('16', chr16, (1.1, 130.7), [40, 80, 120], (38, 526, 355, 726), (-12, 4), yticks_std),
    ('17', chr17, (1.2, 137.6), [40, 80, 120], (392, 526, 712, 730), (-12, 4), yticks_std),
    ('18', chr18, (0, 122.7), [40, 80, 120], (750, 526, 1068, 728), (-12, 4), yticks_std),
    ('19', chr19, (1.4, 109.6), [20, 40, 60, 80, 100], (35, 789, 355, 988), (-12, 4), yticks_std),
    ('20', chr20, (-0.8, 115.1), [20, 40, 60, 80, 100], (392, 788, 713, 989), (-12, 4), yticks_std),
    ('21', chr21, (1.9, 83.0), [20, 40, 60], (749, 786, 1069, 987), (-8, 4), yticks_21),
    ('22', chr22, (2.9, 76.3), [20, 40, 60], (34, 1043, 354, 1242), (-12, 4), yticks_std),
    ('24', chr24, (2.5, 190.4), [50, 100, 150], (392, 1042, 712, 1242), (-12, 4), yticks_std),
]

cells = [
    (8, 2, 363, 255), (365, 3, 722, 257), (721, 3, 1079, 255),
    (8, 258, 363, 510), (365, 257, 722, 510), (721, 258, 1079, 512),
    (7, 513, 364, 768), (365, 513, 721, 772), (721, 513, 1079, 772),
    (8, 773, 363, 1028), (365, 773, 723, 1028), (721, 773, 1079, 1028),
    (8, 1030, 365, 1285), (365, 1030, 723, 1284),
]

fig = plt.figure(figsize=(W / 100, H / 100), dpi=100)

for x0, y0, x1, y1 in cells:
    fig.add_artist(Rectangle((x0 / W, 1 - y1 / H), (x1 - x0) / W, (y1 - y0) / H,
                             transform=fig.transFigure, fill=False,
                             ec='#8e8e8e', lw=1.3))

for name, data, xlim, xticks, (l, t, r, b), ylim, yticks in panels:
    ax = fig.add_axes([l / W, 1 - b / H, (r - l) / W, (b - t) / H])
    pos = [p for p, _ in data]
    lod = [v for _, v in data]
    ax.axhline(upper_line, color='#cccccc', lw=1.6, zorder=1)
    ax.axhline(lower_line, color='#cccccc', lw=1.6, zorder=1)
    ax.axhline(zero_line, color='#bf6464', lw=1.0, zorder=1)
    ax.plot(pos, lod, color='black', lw=1.15, zorder=3)
    ax.set_xlim(*xlim)
    ax.set_ylim(*ylim)
    ax.set_xticks(xticks)
    ax.set_yticks(yticks)
    ax.xaxis.set_major_formatter(FormatStrFormatter('%.1f'))
    ax.yaxis.set_major_formatter(FormatStrFormatter('%.1f'))
    for s in ax.spines.values():
        s.set_color('#808080')
        s.set_linewidth(0.9)
    ax.tick_params(axis='y', length=2.5, width=0.8, color='#808080', pad=2,
                   labelsize=7, labelcolor='#333333')
    ax.tick_params(axis='x', length=0, pad=7, labelsize=7, labelcolor='#333333')
    ax.set_xlabel(f'Chromosome {name} Position (cM)', fontsize=7.2,
                  fontweight='bold', color='#222222', labelpad=6)

# red ring around the chromosome 14 peak region
fig.add_artist(Ellipse((442.5 / W, 1 - 332 / H), 171 / W, 142 / H,
                       transform=fig.transFigure, fill=False,
                       ec='#c40000', lw=1.9))

fig.savefig('out.png', dpi=100)
